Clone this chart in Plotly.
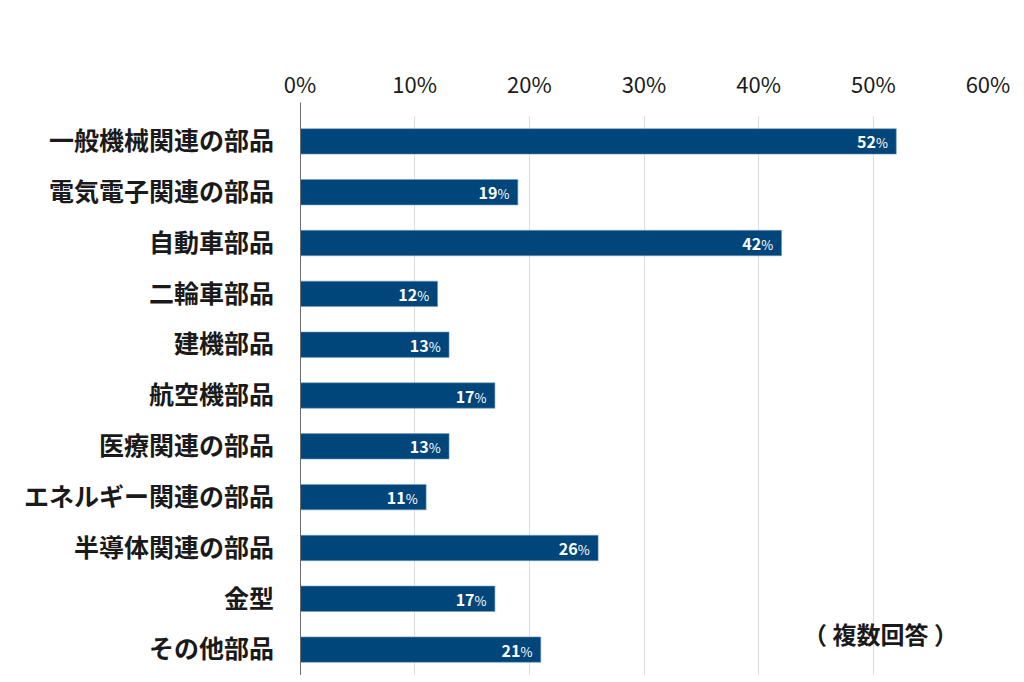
import plotly.graph_objects as go

# 部品カテゴリ（上から順）
categories = [
    "一般機械関連の部品",
    "電気電子関連の部品",
    "自動車部品",
    "二輪車部品",
    "建機部品",
    "航空機部品",
    "医療関連の部品",
    "エネルギー関連の部品",
    "半導体関連の部品",
    "金型",
    "その他部品",
]
shares = [52, 19, 42, 12, 13, 17, 13, 11, 26, 17, 21]
tick_vals = [0, 10, 20, 30, 40, 50, 60]
tick_text = [f"{v}%" for v in tick_vals]

JP_FONT = "Noto Sans CJK JP"
BAR_COLOR = "#00467a"

# the page body has an 8px margin, so the figure is 8px smaller than the window
fig = go.Figure(
    go.Bar(
        x=shares,
        y=categories,
        orientation="h",
        width=0.5,
        marker=dict(color=BAR_COLOR, line=dict(color="#7a9cbd", width=0.6)),
        text=[
            f"<b>{v}</b><span style='font-size:13px'>%</span>"
            "<span style='font-size:12px'>&nbsp;&nbsp;</span>"
            for v in shares
        ],
        textposition="inside",
        insidetextanchor="end",
        constraintext="none",
        textfont=dict(family=JP_FONT, size=16, color="white"),
        hoverinfo="skip",
    )
)

fig.update_layout(
    width=1016,
    height=674,
    margin=dict(l=292, r=36, t=108, b=7),
    plot_bgcolor="white",
    paper_bgcolor="white",
    showlegend=False,
    font=dict(family=JP_FONT, color="#1a1a1a"),
)

fig.update_xaxes(
    side="top",
    range=[0, 60],
    tickvals=tick_vals,
    ticktext=tick_text,
    tickfont=dict(family=JP_FONT, size=22, color="#1a1a1a"),
    showgrid=True,
    gridcolor="#dcdcdc",
    gridwidth=1,
    zeroline=False,
    showline=False,
    ticks="outside",
    ticklen=13,
    tickcolor="rgba(0,0,0,0)",
    fixedrange=True,
)

fig.update_yaxes(
    categoryorder="array",
    categoryarray=categories,
    autorange="reversed",
    tickfont=dict(family=JP_FONT, size=25, color="#1a1a1a", weight="bold"),
    showgrid=False,
    zeroline=False,
    showline=False,
    ticks="outside",
    ticklen=20,
    tickcolor="rgba(0,0,0,0)",
    fixedrange=True,
)

# 縦軸（0%）の線：グリッドより少し上まで伸びる
fig.add_shape(
    type="line",
    xref="x",
    yref="paper",
    x0=0,
    x1=0,
    y0=0,
    y1=1.024,
    line=dict(color="#6b6b6b", width=2),
)

fig.add_annotation(
    text="（ 複数回答 ）",
    xref="paper",
    yref="paper",
    x=0.96,
    y=0.04,
    showarrow=False,
    font=dict(family=JP_FONT, size=24, color="#1a1a1a", weight="bold"),
)

fig.write_html("out.html")
